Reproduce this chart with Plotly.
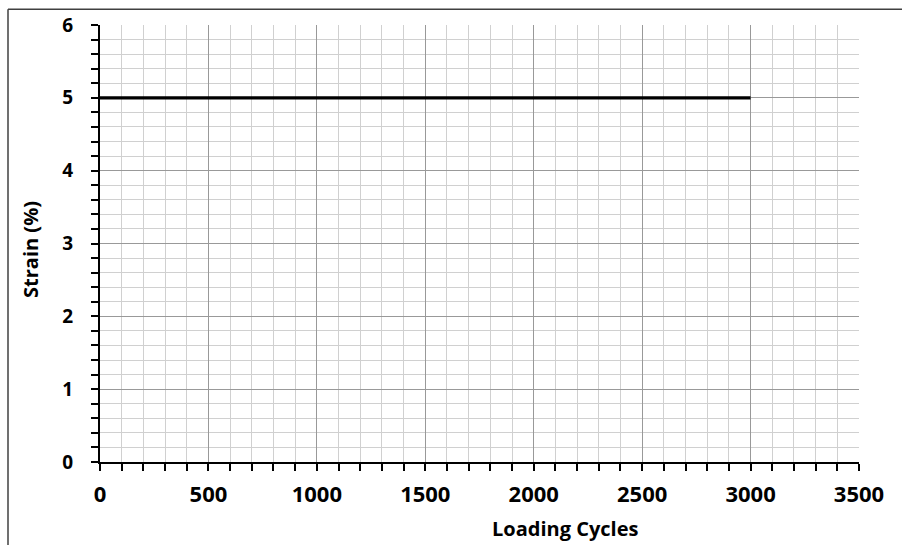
import plotly.graph_objects as go

cycles = [0, 3000]
strain = [5, 5]
x_ticks = [0, 500, 1000, 1500, 2000, 2500, 3000, 3500]
y_ticks = [0, 1, 2, 3, 4, 5, 6]

W, H = 902, 545
L, R, T, B = 100, 43, 21, 83
pw, ph = W - L - R, H - T - B

def px2paper_x(px):
    return (px - L) / pw

def px2paper_y(py):
    return (H - B - py) / ph

FONT = "Open Sans"

fig = go.Figure()
fig.add_trace(go.Scatter(x=cycles, y=strain, mode="lines",
                         line=dict(color="black", width=3.2), showlegend=False))

fig.update_layout(
    width=W, height=H,
    margin=dict(l=L, r=R, t=T, b=B),
    paper_bgcolor="white", plot_bgcolor="white",
    font=dict(family=FONT, color="black"),
    xaxis=dict(range=[0, 3500], tickvals=x_ticks, ticktext=[str(v) for v in x_ticks],
               showline=True, linecolor="black", linewidth=2,
               ticks="outside", ticklen=7, tickwidth=1.5, tickcolor="black",
               showgrid=True, gridcolor="#999999", gridwidth=1,
               zeroline=False,
               tickfont=dict(family=FONT, size=22, color="black", weight="bold"),
               ticklabelstandoff=5,
               minor=dict(dtick=100, ticks="outside", ticklen=7, tickwidth=1.5,
                          tickcolor="black", showgrid=True, gridcolor="#d0d0d0", gridwidth=1)),
    yaxis=dict(range=[0, 6], tickvals=y_ticks, ticktext=[str(v) for v in y_ticks],
               showline=True, linecolor="black", linewidth=2,
               ticks="outside", ticklen=7, tickwidth=1.5, tickcolor="black",
               showgrid=True, gridcolor="#999999", gridwidth=1,
               zeroline=False,
               tickfont=dict(family=FONT, size=19, color="black", weight="bold"),
               ticklabelstandoff=14,
               minor=dict(dtick=0.2, ticks="outside", ticklen=7, tickwidth=1.5,
                          tickcolor="black", showgrid=True, gridcolor="#d0d0d0", gridwidth=1)),
)

fig.add_annotation(text="<b>Loading Cycles</b>", xref="paper", yref="paper",
                   x=px2paper_x(565), y=px2paper_y(529), showarrow=False,
                   xanchor="center", yanchor="middle",
                   font=dict(family=FONT, size=20, color="black"))
fig.add_annotation(text="<b>Strain (%)</b>", xref="paper", yref="paper",
                   x=px2paper_x(31), y=px2paper_y(248), showarrow=False,
                   xanchor="center", yanchor="middle", textangle=-90,
                   font=dict(family=FONT, size=20, color="black"))

# outer chart frame (top and left edges visible)
fig.add_shape(type="line", xref="paper", yref="paper",
              x0=px2paper_x(8), x1=px2paper_x(905), y0=px2paper_y(5), y1=px2paper_y(5),
              line=dict(color="#404040", width=1.5))
fig.add_shape(type="line", xref="paper", yref="paper",
              x0=px2paper_x(8), x1=px2paper_x(8), y0=px2paper_y(5), y1=px2paper_y(548),
              line=dict(color="#404040", width=1.5))

fig.write_html("out.html", config={"displayModeBar": False},
               post_script="document.body.style.margin='0';document.body.style.overflow='hidden';")
